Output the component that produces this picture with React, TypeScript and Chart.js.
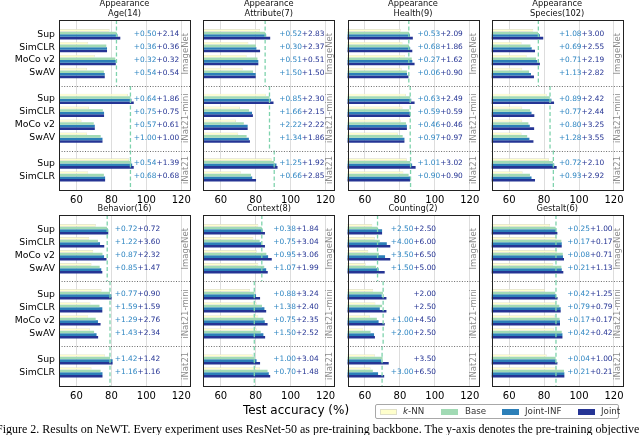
import React, { useEffect, useRef } from 'react';
import { Chart, registerables } from 'chart.js';

Chart.register(...registerables);

// ---------------- data ----------------
const seriesNames = ['k-NN', 'Base', 'Joint-INF', 'Joint'];
const seriesColors = ['#ffffcc', '#a1dab4', '#2c7fb8', '#253494'];
const groupNames = ['ImageNet', 'iNat21-mini', 'iNat21'];
const imagenetMethods = ['Sup', 'SimCLR', 'MoCo v2', 'SwAV'];
const inatMiniMethods = ['Sup', 'SimCLR', 'MoCo v2', 'SwAV'];
const inatMethods = ['Sup', 'SimCLR'];
const xTicks = [60, 80, 100, 120];

const ageKnn = [79.0, 66.7, 70.5, 66.1, 89.5, 67.2, 62.9, 66.1, 90.1, 66.7];
const ageBase = [83.0, 77.1, 82.2, 75.7, 90.9, 75.1, 69.9, 73.9, 91.4, 75.7];
const ageJointInf = [83.5, 77.5, 82.5, 76.2, 91.5, 75.8, 70.5, 74.9, 91.9, 76.4];
const ageJoint = [85.1, 77.5, 82.5, 76.2, 92.8, 75.8, 70.5, 74.9, 92.8, 76.4];
const ageGainInf = ['+0.50', '+0.36', '+0.32', '+0.54', '+0.64', '+0.75', '+0.57', '+1.00', '+0.54', '+0.68'];
const ageGainJoint = ['+2.14', '+0.36', '+0.32', '+0.54', '+1.86', '+0.75', '+0.61', '+1.00', '+1.39', '+0.68'];
const ageRef = [82.9, 90.9, 90.9];

const attrKnn = [82.5, 75.8, 74.8, 72.5, 86.0, 71.0, 68.7, 70.0, 89.2, 71.5];
const attrBase = [85.5, 80.1, 81.0, 78.5, 87.9, 76.2, 73.2, 74.8, 90.6, 77.3];
const attrJointInf = [86.0, 80.4, 81.5, 80.0, 88.8, 77.9, 75.4, 76.1, 91.9, 78.0];
const attrJoint = [88.3, 82.5, 81.5, 80.0, 90.2, 78.4, 75.4, 76.7, 92.5, 80.2];
const attrGainInf = ['+0.52', '+0.30', '+0.51', '+1.50', '+0.85', '+1.66', '+2.22', '+1.34', '+1.25', '+0.66'];
const attrGainJoint = ['+2.83', '+2.37', '+0.51', '+1.50', '+2.30', '+2.15', '+2.22', '+1.86', '+1.92', '+2.85'];
const attrRef = [85.4, 87.9, 90.6];

const healthKnn = [80.5, 81.5, 83.0, 81.0, 83.5, 81.5, 80.5, 79.0, 84.0, 82.0];
const healthBase = [85.3, 85.2, 86.8, 84.0, 85.9, 85.3, 83.5, 81.6, 86.0, 85.0];
const healthJointInf = [85.8, 85.9, 87.1, 84.1, 86.5, 85.9, 84.0, 82.6, 87.0, 85.9];
const healthJoint = [87.4, 87.1, 88.4, 84.9, 88.4, 85.9, 84.0, 82.6, 89.0, 85.9];
const healthGainInf = ['+0.53', '+0.68', '+0.27', '+0.06', '+0.63', '+0.59', '+0.46', '+0.97', '+1.01', '+0.90'];
const healthGainJoint = ['+2.09', '+1.86', '+1.62', '+0.90', '+2.49', '+0.59', '+0.46', '+0.97', '+3.02', '+0.90'];
const healthRef = [85.1, 85.9, 86.1];

const speciesKnn = [73.8, 67.1, 70.0, 67.5, 81.5, 67.5, 67.5, 67.1, 82.8, 67.7];
const speciesBase = [76.5, 72.2, 75.4, 71.4, 83.3, 72.0, 71.0, 70.3, 85.1, 71.9];
const speciesJointInf = [77.6, 72.9, 76.1, 72.5, 84.2, 72.8, 71.8, 71.6, 85.8, 72.8];
const speciesJoint = [79.5, 74.8, 77.6, 74.2, 85.7, 74.4, 74.3, 73.9, 87.2, 74.8];
const speciesGainInf = ['+1.08', '+0.69', '+0.71', '+1.13', '+0.89', '+0.77', '+0.80', '+1.28', '+0.72', '+0.93'];
const speciesGainJoint = ['+3.00', '+2.55', '+2.19', '+2.82', '+2.42', '+2.44', '+3.25', '+3.55', '+2.10', '+2.92'];
const speciesRef = [76.7, 83.4, 85.3];

const behaviorKnn = [71.1, 67.3, 69.6, 68.6, 74.4, 68.0, 66.7, 67.7, 76.3, 68.6];
const behaviorBase = [77.5, 72.3, 74.9, 73.3, 79.2, 73.2, 71.0, 70.1, 79.3, 73.8];
const behaviorJointInf = [78.2, 73.5, 75.8, 74.2, 80.0, 74.8, 72.3, 71.5, 80.7, 74.9];
const behaviorJoint = [78.2, 75.9, 77.2, 74.8, 80.1, 74.8, 73.8, 72.4, 80.7, 74.9];
const behaviorGainInf = ['+0.72', '+1.22', '+0.87', '+0.85', '+0.77', '+1.59', '+1.29', '+1.43', '+1.42', '+1.16'];
const behaviorGainJoint = ['+0.72', '+3.60', '+2.32', '+1.47', '+0.90', '+1.59', '+2.76', '+2.34', '+1.42', '+1.16'];
const behaviorRef = [77.6, 79.2, 79.2];

const contextKnn = [81.5, 78.7, 80.6, 81.5, 76.7, 80.6, 81.5, 80.6, 78.3, 82.5];
const contextBase = [83.5, 82.3, 86.1, 84.9, 79.3, 83.6, 84.4, 82.9, 79.5, 86.8];
const contextJointInf = [83.9, 83.1, 87.1, 86.0, 80.2, 85.0, 85.2, 84.4, 80.5, 87.5];
const contextJoint = [85.3, 85.3, 89.2, 86.9, 82.5, 86.0, 86.8, 85.4, 82.5, 88.3];
const contextGainInf = ['+0.38', '+0.75', '+0.95', '+1.07', '+0.88', '+1.38', '+0.75', '+1.50', '+1.00', '+0.70'];
const contextGainJoint = ['+1.84', '+3.04', '+3.06', '+1.99', '+3.24', '+2.40', '+2.35', '+2.52', '+3.04', '+1.48'];
const contextRef = [83.5, 79.2, 79.2];

const countingKnn = [64.2, 65.7, 61.9, 60.4, 64.7, 66.0, 62.8, 59.0, 65.7, 63.2];
const countingBase = [67.3, 68.5, 68.0, 66.3, 70.3, 69.8, 66.8, 63.2, 70.1, 64.5];
const countingJointInf = [69.8, 72.5, 71.5, 67.8, 69.6, 68.5, 67.8, 65.2, 69.4, 67.5];
const countingJoint = [69.8, 74.5, 74.5, 71.3, 72.3, 72.3, 71.3, 65.7, 73.6, 71.0];
const countingGainInf = ['+2.50', '+4.00', '+3.50', '+1.50', null, null, '+1.00', '+2.00', null, '+3.00'];
const countingGainJoint = ['+2.50', '+6.00', '+6.50', '+5.00', '+2.00', '+2.50', '+4.50', '+2.50', '+3.50', '+6.50'];
const countingRef = [67.2, 70.4, 69.8];

const gestaltKnn = [83.4, 87.2, 87.5, 85.3, 80.5, 86.8, 86.2, 85.7, 81.5, 87.2];
const gestaltBase = [86.6, 89.9, 90.7, 89.9, 86.4, 88.7, 88.9, 90.1, 86.6, 91.4];
const gestaltJointInf = [86.9, 90.1, 90.8, 90.1, 86.8, 89.5, 89.1, 90.5, 86.6, 91.6];
const gestaltJoint = [87.6, 90.1, 91.4, 91.0, 87.7, 89.5, 89.1, 90.5, 87.6, 91.6];
const gestaltGainInf = ['+0.25', '+0.17', '+0.08', '+0.21', '+0.42', '+0.79', '+0.17', '+0.42', '+0.04', '+0.21'];
const gestaltGainJoint = ['+1.00', '+0.17', '+0.71', '+1.13', '+1.25', '+0.79', '+0.17', '+0.42', '+1.00', '+0.21'];
const gestaltRef = [86.8, 86.8, 86.8];

type Panel = {
  title: string[];
  series: number[][];
  gainInf: (string | null)[];
  gainJoint: string[];
  ref: number[];
  annotX: number;
};

const panels: Panel[] = [
  { title: ['Appearance', 'Age(14)'], series: [ageKnn, ageBase, ageJointInf, ageJoint], gainInf: ageGainInf, gainJoint: ageGainJoint, ref: ageRef, annotX: 118.8 },
  { title: ['Appearance', 'Attribute(7)'], series: [attrKnn, attrBase, attrJointInf, attrJoint], gainInf: attrGainInf, gainJoint: attrGainJoint, ref: attrRef, annotX: 119.4 },
  { title: ['Appearance', 'Health(9)'], series: [healthKnn, healthBase, healthJointInf, healthJoint], gainInf: healthGainInf, gainJoint: healthGainJoint, ref: healthRef, annotX: 116 },
  { title: ['Appearance', 'Species(102)'], series: [speciesKnn, speciesBase, speciesJointInf, speciesJoint], gainInf: speciesGainInf, gainJoint: speciesGainJoint, ref: speciesRef, annotX: 114.4 },
  { title: ['Behavior(16)'], series: [behaviorKnn, behaviorBase, behaviorJointInf, behaviorJoint], gainInf: behaviorGainInf, gainJoint: behaviorGainJoint, ref: behaviorRef, annotX: 107.9 },
  { title: ['Context(8)'], series: [contextKnn, contextBase, contextJointInf, contextJoint], gainInf: contextGainInf, gainJoint: contextGainJoint, ref: contextRef, annotX: 116 },
  { title: ['Counting(2)'], series: [countingKnn, countingBase, countingJointInf, countingJoint], gainInf: countingGainInf, gainJoint: countingGainJoint, ref: countingRef, annotX: 100.7 },
  { title: ['Gestalt(6)'], series: [gestaltKnn, gestaltBase, gestaltJointInf, gestaltJoint], gainInf: gestaltGainInf, gainJoint: gestaltGainJoint, ref: gestaltRef, annotX: 119.2 },
];

// ---------------- layout ----------------
const W = 640;
const H = 435;
const COL_LEFT = [59, 203.3, 347.5, 491.7];
const AX_W = 131;
const ROW_TOP = [20, 215];
const AX_H = [170, 171];
const X_MIN = 50;
const X_MAX = 125;
const Y_MIN = -1.1;
const Y_MAX = 12.05;
const FONT = "'DejaVu Sans', sans-serif";

const methodGroups = [imagenetMethods, inatMiniMethods, inatMethods];
const rowLabels: string[] = [];
const rowSlots: number[] = [];
const rowGroup: number[] = [];
const sepSlots: number[] = [];
{
  let s = 0;
  methodGroups.forEach((g, gi) => {
    g.forEach((m) => {
      rowLabels.push(m);
      rowSlots.push(s);
      rowGroup.push(gi);
      s += 1;
    });
    if (gi < methodGroups.length - 1) {
      sepSlots.push(s);
      s += 1;
    }
  });
}

function makeDecor(panel: Panel) {
  return {
    id: 'panelDecor',
    afterDatasetsDraw(chart: any) {
      const { ctx, chartArea: a, scales } = chart;
      const x = scales.x;
      const y = scales.y;
      ctx.save();
      // reference dashed lines per group
      const bounds = [Y_MIN, ...sepSlots, Y_MAX];
      ctx.strokeStyle = '#7fd3ad';
      ctx.lineWidth = 1.3;
      ctx.setLineDash([4, 2.5]);
      panel.ref.forEach((v, gi) => {
        const px = x.getPixelForValue(v);
        ctx.beginPath();
        ctx.moveTo(px, y.getPixelForValue(bounds[gi]));
        ctx.lineTo(px, y.getPixelForValue(bounds[gi + 1]));
        ctx.stroke();
      });
      // group separators
      ctx.strokeStyle = '#6a6a6a';
      ctx.lineWidth = 1;
      ctx.setLineDash([1, 1.6]);
      sepSlots.forEach((s) => {
        const py = Math.round(y.getPixelForValue(s)) + 0.5;
        ctx.beginPath();
        ctx.moveTo(a.left, py);
        ctx.lineTo(a.right, py);
        ctx.stroke();
      });
      // frame
      ctx.setLineDash([]);
      ctx.strokeStyle = '#222';
      ctx.lineWidth = 1;
      ctx.strokeRect(Math.round(a.left) + 0.5, Math.round(a.top) + 0.5, Math.round(a.right) - Math.round(a.left), Math.round(a.bottom) - Math.round(a.top));
      // side group labels
      ctx.fillStyle = '#8c8c8c';
      ctx.font = `8.5px ${FONT}`;
      ctx.textAlign = 'center';
      ctx.textBaseline = 'middle';
      groupNames.forEach((g, gi) => {
        const slots = rowSlots.filter((_, i) => rowGroup[i] === gi);
        const mean = slots.reduce((p, c) => p + c, 0) / slots.length;
        ctx.save();
        ctx.translate(a.right - 4.5, y.getPixelForValue(mean));
        ctx.rotate(-Math.PI / 2);
        ctx.fillText(g, 0, 0);
        ctx.restore();
      });
      // annotations
      ctx.font = `7.4px ${FONT}`;
      ctx.textAlign = 'right';
      const ax = x.getPixelForValue(panel.annotX);
      rowSlots.forEach((s, i) => {
        const py = y.getPixelForValue(s);
        const t2 = panel.gainJoint[i];
        ctx.fillStyle = '#253494';
        ctx.fillText(t2, ax, py);
        const w2 = ctx.measureText(t2).width;
        const t1 = panel.gainInf[i];
        if (t1) {
          ctx.fillStyle = '#2f86c2';
          ctx.fillText(t1, ax - w2, py);
        }
      });
      // titles
      ctx.fillStyle = '#111';
      ctx.font = `8.3px ${FONT}`;
      ctx.textAlign = 'center';
      const cx = (a.left + a.right) / 2;
      const n = panel.title.length;
      panel.title.forEach((t, ti) => {
        ctx.fillText(t, cx, a.top - 6.5 - (n - 1 - ti) * 9.4);
      });
      ctx.restore();
    },
  };
}

function PanelChart({ panel, index }: { panel: Panel; index: number }) {
  const ref = useRef<HTMLCanvasElement>(null);
  useEffect(() => {
    const col = index % 4;
    const row = Math.floor(index / 4);
    const left = COL_LEFT[col];
    const top = ROW_TOP[row];
    const bottom = top + AX_H[row];
    const right = left + AX_W;
    const yw = col === 0 ? 45 : 0;
    const xh = 20;
    const chart = new Chart(ref.current as HTMLCanvasElement, {
      type: 'bar',
      data: {
        datasets: panel.series.map((vals, si) => ({
          label: seriesNames[si],
          data: vals.map((v, i) => ({ x: v, y: rowSlots[i] })),
          backgroundColor: seriesColors[si],
          borderColor: si === 0 ? '#d9d9c4' : seriesColors[si],
          borderWidth: si === 0 ? 0.6 : 0,
          borderSkipped: 'start',
          categoryPercentage: 0.8,
          barPercentage: 1.0,
        })),
      },
      options: {
        indexAxis: 'y',
        animation: false,
        responsive: false,
        events: [],
        layout: { padding: { left: left - yw, right: W - right, top: top, bottom: H - bottom - xh } },
        plugins: { legend: { display: false }, tooltip: { enabled: false }, title: { display: false } },
        scales: {
          x: {
            type: 'linear',
            min: X_MIN,
            max: X_MAX,
            afterBuildTicks: (s: any) => {
              s.ticks = xTicks.map((v) => ({ value: v }));
            },
            afterFit: (s: any) => {
              s.height = xh;
            },
            grid: { color: '#dddddd', lineWidth: 1, drawTicks: false },
            border: { display: false },
            ticks: { color: '#000', font: { family: FONT, size: 10 }, padding: 4, autoSkip: false, maxRotation: 0 },
          },
          y: {
            type: 'linear',
            reverse: true,
            min: Y_MIN,
            max: Y_MAX,
            offset: false,
            afterBuildTicks: (s: any) => {
              s.ticks = rowSlots.map((v) => ({ value: v }));
            },
            afterFit: (s: any) => {
              s.width = yw;
            },
            grid: { display: false, drawTicks: false, offset: false },
            border: { display: false },
            ticks: {
              display: col === 0,
              color: '#000',
              font: { family: FONT, size: 9.3 },
              padding: 4,
              autoSkip: false,
              callback: (v: any) => rowLabels[rowSlots.indexOf(Number(v))] ?? '',
            },
          },
        },
      },
      plugins: [makeDecor(panel)],
    } as any);
    return () => chart.destroy();
  }, [panel, index]);
  return (
    <canvas
      ref={ref}
      width={W}
      height={H}
      style={{ position: 'absolute', left: 0, top: 0, width: W, height: H }}
    />
  );
}

const legendPatchLeft = [4, 65, 126, 202];
const legendTextLeft = [27, 89, 149, 225];

export default function App() {
  return (
    <div style={{ position: 'absolute', left: 0, top: 0, width: W, height: H, overflow: 'hidden', background: '#fff' }}>
      {panels.map((p, i) => (
        <PanelChart key={i} panel={p} index={i} />
      ))}
      <div
        style={{
          position: 'absolute',
          left: 196,
          top: 403,
          width: 200,
          textAlign: 'center',
          font: `12px ${FONT}`,
          lineHeight: '15px',
          color: '#000',
        }}
      >
        Test accuracy (%)
      </div>
      <div
        style={{
          position: 'absolute',
          left: 375,
          top: 404,
          width: 244,
          height: 15,
          border: '1px solid #a8a8a8',
          borderRadius: 2,
          boxSizing: 'border-box',
          background: '#fff',
        }}
      >
        {seriesNames.map((n, i) => (
          <React.Fragment key={n}>
            <div
              style={{
                position: 'absolute',
                left: legendPatchLeft[i],
                top: 3.5,
                width: 17,
                height: 6,
                background: seriesColors[i],
                boxSizing: 'border-box',
                border: i === 0 ? '0.5px solid #e0e0c8' : 'none',
              }}
            />
            <div
              style={{
                position: 'absolute',
                left: legendTextLeft[i],
                top: 0,
                font: `8.7px ${FONT}`,
                lineHeight: '13px',
                color: '#333',
                whiteSpace: 'nowrap',
              }}
            >
              {i === 0 ? (
                <>
                  <i>k</i>-NN
                </>
              ) : (
                n
              )}
            </div>
          </React.Fragment>
        ))}
      </div>
      <div
        style={{
          position: 'absolute',
          left: -4,
          top: 423,
          font: "12px 'Liberation Serif', serif",
          lineHeight: '13px',
          color: '#000',
          whiteSpace: 'nowrap',
        }}
      >
        Figure 2. Results on NeWT. Every experiment uses ResNet-50 as pre-training backbone. The y-axis denotes the pre-training objective
      </div>
    </div>
  );
}
